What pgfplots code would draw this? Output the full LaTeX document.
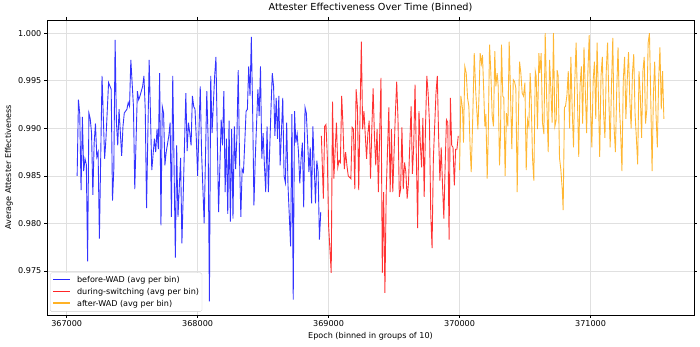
\documentclass[border=0pt]{standalone}
\usepackage{pgfplots}
\pgfplotsset{compat=1.18}
\usepackage{fontspec}
\setmainfont{DejaVu Sans}
\definecolor{mplblue}{RGB}{0,0,255}
\definecolor{mplred}{RGB}{255,0,0}
\definecolor{mplorange}{RGB}{255,165,0}
\definecolor{legframe}{RGB}{204,204,204}
\begin{document}
\begin{tikzpicture}
\begin{axis}[
  width=11.091in, height=5.056in, scale only axis,
  xmin=366850, xmax=371790, ymin=0.9704, ymax=1.0014,
  xtick={367000,368000,369000,370000,371000},
  ytick={0.975,0.980,0.985,0.990,0.995,1.000},
  scaled x ticks=false, scaled y ticks=false,
  xticklabel style={/pgf/number format/.cd, fixed, set thousands separator={}},
  yticklabel style={/pgf/number format/.cd, fixed, fixed zerofill, precision=3},
  /pgf/number format/assume math mode=true,
  tick label style={font=\fontsize{10}{12}\selectfont},
  label style={font=\fontsize{10}{12}\selectfont},
  title={Attester Effectiveness Over Time (Binned)},
  title style={font=\fontsize{12}{14}\selectfont, yshift=1pt},
  xlabel={Epoch (binned in groups of 10)},
  ylabel={Average Attester Effectiveness},
  grid=major, grid style={black!12, line width=0.6pt},
  tick align=outside, major tick length=3.5pt,
  tick style={black, line width=0.6pt},
  axis line style={line width=0.6pt},
]
\addplot[color=mplblue, draw opacity=0.8, line width=1.1pt] coordinates {
(367080,0.9850)(367090,0.9930)(367100,0.9915)(367110,0.9835)(367120,0.9912)(367130,0.9855)(367140,0.9868)(367150,0.9862)(367160,0.9760)(367170,0.9916)(367180,0.9910)(367190,0.9895)(367200,0.9830)(367210,0.9885)(367220,0.9905)(367230,0.9870)(367240,0.9875)
(367250,0.9784)(367270,0.9955)(367290,0.9868)(367300,0.9889)(367320,0.9948)(367340,0.9941)(367350,0.9824)(367360,0.9857)(367370,0.9993)(367380,0.9906)(367390,0.9882)(367400,0.9920)(367420,0.9871)(367430,0.9902)(367440,0.9916)(367460,0.9920)(367470,0.9927)(367480,0.9923)(367490,0.9972)(367510,0.9923)(367520,0.9836)(367540,0.9939)(367550,0.9930)(367560,0.9934)(367580,0.9944)(367590,0.9955)(367600,0.9920)(367610,0.9816)(367630,0.9972)(367650,0.9856)(367670,0.9889)(367680,0.9875)(367690,0.9899)(367700,0.9878)(367710,0.9958)
(367720,0.9798)(367730,0.9923)(367740,0.9916)(367750,0.9861)(367760,0.9875)(367780,0.9892)(367790,0.9906)(367800,0.9807)(367810,0.9955)(367820,0.9861)(367830,0.9764)(367840,0.9882)(367850,0.9807)(367870,0.9869)(367880,0.9779)(367890,0.9830)(367910,0.9937)(367920,0.9876)(367930,0.9906)(367940,0.9895)(367950,0.9882)(367960,0.9934)(367970,0.9923)(367980,0.9920)(367990,0.9889)(368000,0.9850)(368020,0.9944)(368030,0.9875)(368050,0.9800)(368070,0.9939)(368080,0.9889)(368090,0.9718)(368100,0.9955)(368110,0.9895)(368130,0.9955)(368140,0.9975)(368150,0.9892)
(368160,0.9812)(368180,0.9909)(368190,0.9882)(368200,0.9939)(368210,0.9833)(368220,0.9889)(368230,0.9810)(368240,0.9908)(368250,0.9802)(368260,0.9899)(368270,0.9805)(368280,0.9902)(368290,0.9857)(368300,0.9892)(368310,0.9961)(368320,0.9868)(368330,0.9807)(368340,0.9857)(368350,0.9854)(368360,0.9885)(368370,0.9918)(368380,0.9920)(368390,0.9965)(368400,0.9934)(368410,0.9996)(368420,0.9920)(368430,0.9819)(368440,0.9868)(368460,0.9941)(368470,0.9913)(368480,0.9965)(368490,0.9868)(368500,0.9895)(368510,0.9861)(368520,0.9833)(368530,0.9902)(368540,0.9833)(368560,0.9920)(368570,0.9958)(368580,0.9944)(368590,0.9892)
(368600,0.9932)(368610,0.9889)(368620,0.9934)(368630,0.9861)(368650,0.9932)(368660,0.9850)(368670,0.9843)(368680,0.9906)(368690,0.9840)(368710,0.9776)(368720,0.9915)(368730,0.9720)(368740,0.9918)(368750,0.9885)(368760,0.9894)(368770,0.9875)(368780,0.9842)(368790,0.9868)(368800,0.9885)(368810,0.9817)(368820,0.9922)(368830,0.9916)(368850,0.9854)(368860,0.9880)(368870,0.9821)(368880,0.9902)(368900,0.9821)(368910,0.9866)(368920,0.9854)(368930,0.9783)(368940,0.9812)
};
\addplot[color=mplred, draw opacity=0.8, line width=1.1pt] coordinates {
(368945,0.9892)(368960,0.9826)(368970,0.9902)(368980,0.9904)(368990,0.9871)(369000,0.9798)(369020,0.9748)(369030,0.9928)(369040,0.9847)
(369060,0.9906)(369070,0.9859)(369080,0.9866)(369090,0.9864)(369100,0.9934)(369110,0.9902)(369120,0.9857)(369130,0.9875)(369140,0.9861)(369150,0.9850)(369170,0.9847)(369180,0.9901)(369190,0.9899)(369200,0.9836)(369210,0.9941)(369220,0.9923)(369230,0.9835)(369250,0.9991)(369260,0.9899)(369270,0.9918)(369290,0.9868)(369300,0.9895)(369310,0.9908)(369320,0.9847)(369330,0.9899)(369340,0.9942)(369350,0.9892)(369360,0.9861)(369370,0.9899)(369380,0.9833)(369400,0.9953)(369410,0.9748)(369420,0.9833)(369430,0.9727)(369440,0.9833)(369460,0.9922)(369470,0.9833)(369480,0.9899)
(369490,0.9833)(369510,0.9916)(369520,0.9949)(369530,0.9909)(369540,0.9828)(369550,0.9836)(369560,0.9901)(369570,0.9836)(369580,0.9864)(369590,0.9854)(369600,0.9826)(369610,0.9843)(369630,0.9923)(369640,0.9852)(369650,0.9882)(369660,0.9946)(369670,0.9871)(369680,0.9795)(369690,0.9918)(369700,0.9885)(369710,0.9859)(369720,0.9911)(369730,0.9828)(369740,0.9902)(369750,0.9955)(369760,0.9937)(369770,0.9906)(369780,0.9810)(369790,0.9774)(369800,0.9868)(369820,0.9937)(369830,0.9955)(369840,0.9892)(369850,0.9845)(369860,0.9880)(369870,0.9840)(369880,0.9805)(369890,0.9861)(369900,0.9909)(369910,0.9906)(369915,0.9842)(369920,0.9783)(369930,0.9932)(369940,0.9882)(369950,0.9880)(369960,0.9840)(369970,0.9878)(369980,0.9878)(369990,0.9892)
};
\addplot[color=mplorange, draw opacity=0.8, line width=1.1pt] coordinates {
(370000,0.9856)(370010,0.9934)(370023,0.9920)(370030,0.9885)(370040,0.9965)(370051,0.9958)(370061,0.9932)(370071,0.9923)(370081,0.9878)(370089,0.9854)(370099,0.9902)(370112,0.9979)(370124,0.9937)(370140,0.9899)(370150,0.9941)(370157,0.9979)(370168,0.9968)(370175,0.9977)(370185,0.9937)(370193,0.9902)(370201,0.9915)(370211,0.9847)(370218,0.9885)(370229,0.9988)(370239,0.9958)(370249,0.9913)(370259,0.9902)(370269,0.9981)(370277,0.9944)(370287,0.9958)(370295,0.9944)(370305,0.9861)(370313,0.9895)(370320,0.9988)(370330,0.9934)(370338,0.9932)(370348,0.9850)(370358,0.9916)
(370369,0.9902)(370379,0.9991)(370389,0.9937)(370399,0.9878)(370410,0.9951)(370420,0.9949)(370430,0.9942)(370440,0.9833)(370450,0.9916)(370458,0.9970)(370468,0.9958)(370478,0.9937)(370488,0.9934)(370499,0.9948)(370509,0.9856)(370519,0.9909)(370529,0.9902)(370539,0.9958)(370547,0.9930)(370557,0.9869)(370567,0.9845)(370578,0.9960)(370585,0.9955)(370595,0.9899)(370606,0.9979)(370613,0.9958)(370623,0.9979)(370633,0.9906)(370644,0.9894)(370654,1.0000)(370664,0.9937)(370677,0.9875)(370687,0.9972)(370697,0.9941)(370707,0.9906)(370717,1.0000)(370728,0.9902)(370738,0.9909)(370745,0.9961)(370753,0.9955)(370763,0.9869)(370773,0.9857)(370784,0.9836)(370791,0.9814)(370801,0.9922)(370809,0.9923)
(370820,0.9935)(370830,0.9960)(370840,0.9900)(370850,0.9975)(370860,0.9920)(370870,0.9880)(370880,0.9950)(370890,0.9990)(370900,0.9930)(370910,0.9870)(370920,0.9945)(370930,0.9965)(370940,0.9905)(370950,0.9985)(370960,0.9940)(370970,0.9895)(370980,0.9960)(370990,0.9998)(371000,0.9925)(371010,0.9880)(371020,0.9950)(371030,0.9970)(371040,0.9910)(371050,0.9990)(371060,0.9935)(371070,0.9870)(371080,0.9955)(371090,0.9975)(371100,0.9915)(371110,0.9890)(371120,0.9960)(371130,0.9990)(371140,0.9930)(371150,0.9880)(371160,0.9945)(371170,0.9995)(371180,0.9900)(371190,0.9875)(371200,0.9940)(371210,0.9985)(371220,0.9925)(371230,0.9895)(371240,0.9855)(371250,0.9950)(371260,0.9975)(371270,0.9910)(371280,0.9950)(371290,0.9980)(371300,0.9930)(371310,0.9900)(371320,0.9958)(371330,0.9978)(371340,0.9915)(371350,0.9890)(371360,0.9862)(371370,0.9960)(371380,0.9935)(371390,0.9890)(371400,0.9960)(371410,0.9975)(371420,0.9905)(371430,0.9920)(371440,0.9990)(371450,1.0000)(371460,0.9930)(371470,0.9855)(371480,0.9935)(371490,0.9970)(371500,0.9915)(371510,0.9880)(371520,0.9950)(371530,0.9985)(371540,0.9920)(371550,0.9960)(371560,0.9910)
};
\end{axis}
\node[draw=legframe, fill=white, rounded corners=2pt, anchor=south west,
  inner xsep=3.7pt, inner ysep=2.5pt, font=\fontsize{10}{12}\selectfont]
  at ([shift={(3.7pt,3.7pt)}]current axis.south west) {%
  \renewcommand{\arraystretch}{1.2}%
  \begin{tabular}{@{}l@{\hspace{8.6pt}}l@{}}
  \textcolor{mplblue!85}{\rule[0.3em]{0.74cm}{1.5pt}} & before-WAD (avg per bin)\\
  \textcolor{mplred!85}{\rule[0.3em]{0.74cm}{1.5pt}} & during-switching (avg per bin)\\
  \textcolor{mplorange!85}{\rule[0.3em]{0.74cm}{1.5pt}} & after-WAD (avg per bin)
  \end{tabular}};
\path (current axis.south west) ++(-0.806in,-0.549in) rectangle ([shift={(0.103in,0.326in)}]current axis.north east);
\end{tikzpicture}
\end{document}
